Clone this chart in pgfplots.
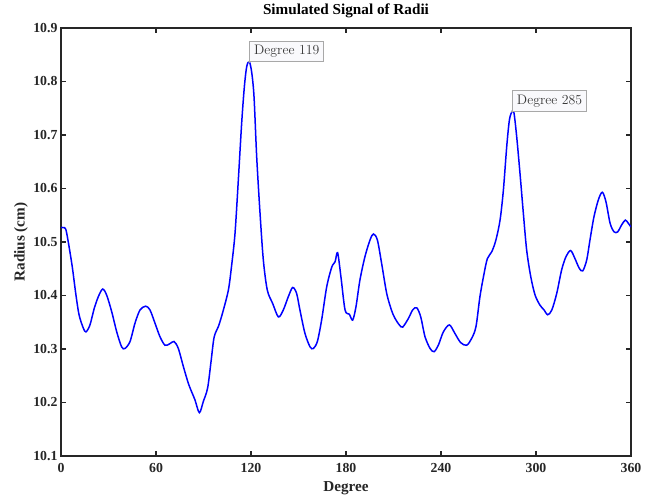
\documentclass[border=0pt]{standalone}
\usepackage{fontspec}
\usepackage{pgfplots}
\pgfplotsset{compat=1.18}
\newfontfamily\tnr{Liberation Serif}
\definecolor{axgray}{HTML}{262626}
\definecolor{tipfill}{HTML}{F9F9FC}
\definecolor{tipedge}{HTML}{A8A8A8}
\definecolor{tiptext}{HTML}{383838}
\begin{document}
\begin{tikzpicture}
\begin{axis}[
  scale only axis,
  width=570pt, height=428pt,
  xmin=0, xmax=360, ymin=10.1, ymax=10.9,
  xtick={0,60,120,180,240,300,360},
  ytick={10.1,10.2,10.3,10.4,10.5,10.6,10.7,10.8,10.9},
  tick pos=both,
  tick align=inside,
  major tick length=5pt,
  axis line style={axgray, line width=1.1pt},
  every tick/.style={axgray, line width=1.1pt},
  /pgf/number format/assume math mode=true,
  yticklabel style={/pgf/number format/.cd, fixed, fixed zerofill, precision=1},
  ticklabel style={font=\tnr\bfseries\fontsize{13.8}{15}\selectfont, text=axgray},
  xticklabel style={anchor=base, yshift=-16.7pt},
  title={Simulated Signal of Radii},
  title style={at={(axis description cs:0.5,1)}, anchor=base, yshift=7.5pt, font=\tnr\bfseries\fontsize{15.2}{17}\selectfont, text=black},
  xlabel={Degree},
  xlabel style={at={(axis description cs:0.5,0)}, anchor=base, yshift=-35.7pt, font=\tnr\bfseries\fontsize{15.2}{17}\selectfont, text=axgray},
  ylabel={Radius (cm)},
  ylabel style={at={(axis description cs:-0.0702,0.5)}, anchor=center, rotate=0, font=\tnr\bfseries\fontsize{15.2}{17}\selectfont, text=axgray},
  clip=true,
]
\addplot[blue, line width=1.5pt, smooth, tension=0.5] coordinates {
(0,10.527) (1.5,10.527) (3,10.524) (4.6,10.50) (7.1,10.454) (9.3,10.404)
(11.4,10.364) (14.1,10.339) (15.8,10.332) (18.3,10.345) (21,10.376)
(23.6,10.398) (26.3,10.412) (28.8,10.401) (32,10.370) (35.2,10.332)
(38.3,10.304) (40.4,10.301) (43.6,10.314) (46.7,10.348) (49.9,10.373)
(53.5,10.380) (56.2,10.373) (59.4,10.348) (62.5,10.323) (65.7,10.307)
(68.8,10.310) (71.4,10.314) (74.1,10.301) (77.3,10.267) (80.4,10.236)
(82.5,10.220) (84.6,10.205) (87.4,10.181) (89.9,10.202) (92.6,10.227)
(94.7,10.275) (96.7,10.322) (99.4,10.342) (102,10.367) (105.7,10.410)
(107.8,10.457) (109.9,10.516) (112,10.616) (114.1,10.722) (115.8,10.790)
(117.3,10.828) (118.9,10.837) (120.4,10.818) (121.9,10.772) (123.6,10.659)
(125.7,10.554) (127.8,10.466) (130.3,10.410) (133.7,10.385) (137.3,10.360)
(140.4,10.373) (143.6,10.398) (146.3,10.415) (148.8,10.404) (150.9,10.373)
(154.1,10.329) (157.3,10.304) (159.4,10.301) (161.9,10.314) (164.6,10.354)
(167.8,10.416) (171,10.453) (173.1,10.463) (174.7,10.480) (176.8,10.435)
(179.4,10.373) (182.1,10.365) (184.2,10.354) (186.3,10.379) (188.8,10.429)
(192,10.473) (195.2,10.504) (197.3,10.515) (199.8,10.504) (202.5,10.460)
(205.7,10.404) (208.8,10.372) (211,10.357) (213.7,10.345) (215.8,10.341)
(219.4,10.357) (222.1,10.373) (224.7,10.377) (227.2,10.360) (229.9,10.323)
(233.1,10.301) (235.6,10.295) (238.3,10.307) (241.5,10.332) (245.3,10.345)
(248.8,10.329) (252.4,10.312) (256.2,10.307) (259.4,10.320) (262.1,10.342)
(264.6,10.398) (267.2,10.441) (269.3,10.469) (272.1,10.482) (274.7,10.504)
(277.3,10.541) (279.4,10.597) (281.5,10.678) (283.2,10.728) (284.9,10.744)
(286.1,10.741) (287.8,10.697) (289.9,10.628) (292,10.554) (294.1,10.485)
(296.7,10.435) (299.4,10.401) (302.5,10.382) (305.1,10.373) (307.4,10.364)
(310,10.373) (313.1,10.404) (316.2,10.448) (319,10.473) (321.9,10.484)
(324.6,10.469) (327.3,10.451) (329.5,10.446) (332,10.466) (334.1,10.504)
(336.6,10.547) (339.4,10.579) (341.9,10.593) (344.2,10.575) (346.8,10.535)
(349.3,10.519) (351.6,10.519) (354.1,10.532) (356.4,10.541) (358.3,10.535)
(360,10.528)
};
\end{axis}
\begin{axis}[
  scale only axis,
  width=570pt, height=428pt,
  xmin=0, xmax=360, ymin=10.1, ymax=10.9,
  hide axis, clip=false,
]
\addplot[only marks, mark=*, mark size=0.9pt, color=tipedge] coordinates {(118.9,10.837) (284.9,10.744)};
\node[anchor=south west, draw=tipedge, fill=tipfill, line width=0.8pt, text=tiptext, inner xsep=4.5pt, inner ysep=4pt, font=\fontsize{13.8}{15}\selectfont] at (axis cs:118.9,10.837) {Degree 119};
\node[anchor=south west, draw=tipedge, fill=tipfill, line width=0.8pt, text=tiptext, inner xsep=4.5pt, inner ysep=4pt, font=\fontsize{13.8}{15}\selectfont] at (axis cs:284.9,10.744) {Degree 285};
\end{axis}
\pgfresetboundingbox
\path (-61pt,-43pt) rectangle (595pt,456pt);
\end{tikzpicture}
\end{document}
